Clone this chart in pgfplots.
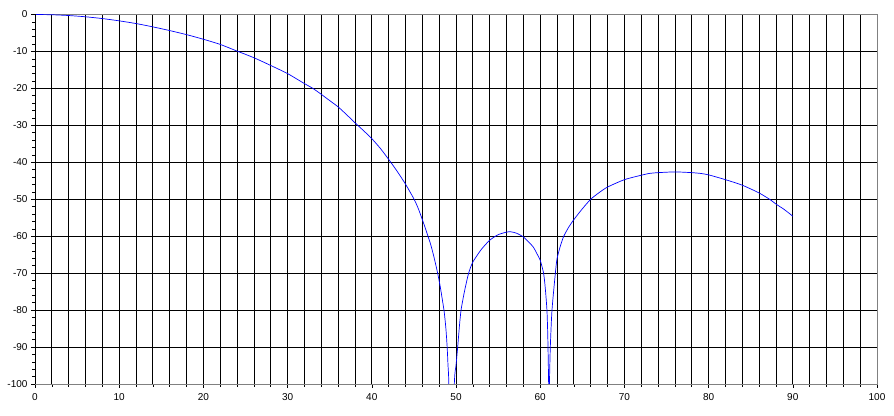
\documentclass[border=0pt]{standalone}
\usepackage{fontspec}
\setmainfont{Liberation Sans}
\usepackage{pgfplots}
\pgfplotsset{compat=1.18}

\begin{document}
\begin{tikzpicture}
\begin{axis}[
    scale only axis,
    width=842pt, height=369.5pt,
    xmin=0, xmax=100, ymin=-100, ymax=0,
    xtick={0,10,...,100},
    ytick={-100,-90,...,0},
    minor x tick num=4,
    minor y tick num=4,
    xminorgrids=true, xmajorgrids=true, ymajorgrids=true,
    major grid style={black, line width=0.8pt},
    minor grid style={black, line width=0.8pt},
    axis line style={gray, line width=0.8pt},
    tick align=outside,
    xtick pos=left, ytick pos=left,
    major tick length=4pt, minor tick length=3pt,
    tick style={black, line width=0.6pt},
    ticklabel style={font=\fontsize{10}{12}\selectfont},
    /pgf/number format/assume math mode=true,
    xticklabel shift=2pt,
    clip=true,
]
\addplot [blue, line width=0.7pt, smooth, tension=0.4] coordinates {
(0,0) (2,-0.07) (4,-0.28) (6,-0.62) (8,-1.1) (10,-1.72) (12,-2.45)
(14,-3.35) (16,-4.35) (18,-5.45) (20,-6.7) (22,-8.1) (24,-9.9)
(26,-11.7) (28,-13.8) (30,-16.0) (32,-18.7) (33,-20.0) (34,-21.6)
(35,-23.3) (36,-25.0) (37,-27.1) (38,-29.3) (39,-31.4) (40,-33.6)
(41,-36.2) (42,-39.2) (43,-42.4) (44,-45.9) (45,-49.9) (45.5,-52.4)
(46,-55.5) (46.5,-58.8) (47,-62.3) (47.4,-65.8) (47.8,-69.8) (48.1,-73.3)
(48.4,-77.5) (48.6,-80.5) (48.8,-85) (48.95,-90) (49.05,-95) (49.15,-100) (49.45,-130)
(49.8,-100) (50.0,-95) (50.2,-90) (50.4,-84.5) (50.6,-80) (51.0,-75)
(51.5,-70) (52,-67) (53,-63.6) (54,-61.1) (55,-59.6) (56,-58.9)
(56.5,-58.8) (57.2,-59.2) (58,-60.2) (58.6,-61.5) (59.2,-63) (59.6,-64.7)
(60.0,-66.5) (60.4,-70) (60.6,-74) (60.8,-80) (60.9,-87) (61.0,-100)
(61.05,-115) (61.1,-100) (61.2,-90) (61.4,-80) (61.8,-70) (62,-66.1)
(62.4,-62.6) (62.8,-60) (63.4,-57.5) (64,-55.5) (65,-52.6) (66,-50.0) (67,-48.2)
(68,-46.7) (70,-44.7) (72,-43.5) (73,-43.0) (74,-42.8) (76,-42.6)
(78,-42.8) (79,-43.0) (80,-43.4) (82,-44.7) (84,-46.2) (86,-48.3)
(87.3,-50.1) (88,-51.3) (89,-52.8) (90,-54.6)
};
\draw [black, line width=0.8pt] (rel axis cs:0,1) -- (rel axis cs:0,0) -- (rel axis cs:1,0);
\end{axis}
\useasboundingbox (current axis.south west) ++(-35pt,-31pt) rectangle ([shift={(17pt,14.5pt)}]current axis.north east);
\end{tikzpicture}
\end{document}
